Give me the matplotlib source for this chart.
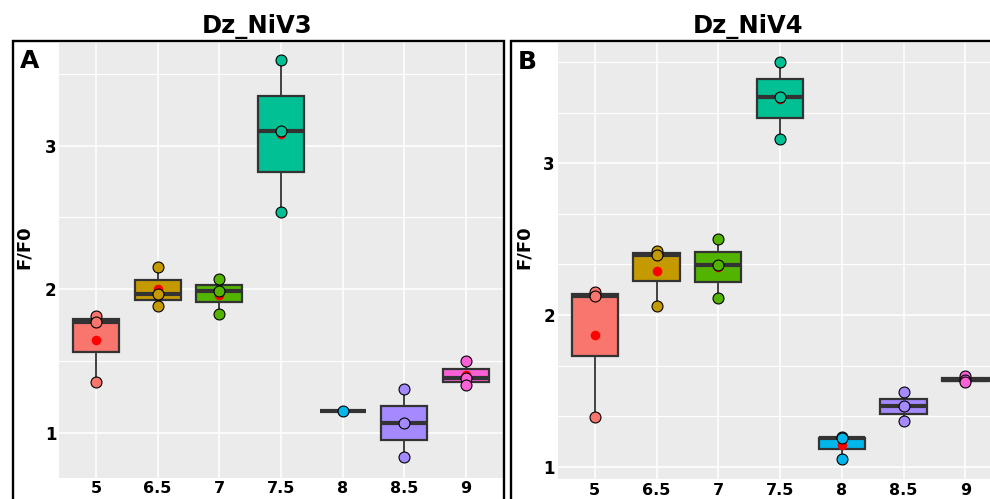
import numpy as np
import matplotlib
matplotlib.use("Agg")
import matplotlib.pyplot as plt
from matplotlib.patches import Rectangle

# ---------------- data ----------------
ph_labels = ['5', '6.5', '7', '7.5', '8', '8.5', '9']
colors = ['#F8766D', '#C49A00', '#53B400', '#00C094', '#00B6EB', '#A58AFF', '#FB61D7']

# Dz_NiV3 (panel A)
nv3_5 = [1.816, 1.773, 1.352]
nv3_65 = [2.158, 1.966, 1.886]
nv3_7 = [2.068, 1.989, 1.826]
nv3_75 = [3.600, 3.100, 2.537]
nv3_8 = [1.149]
nv3_85 = [1.303, 1.070, 0.830]
nv3_9 = [1.502, 1.380, 1.331]

# Dz_NiV4 (panel B)
nv4_5 = [2.154, 2.125, 1.330]
nv4_65 = [2.420, 2.395, 2.059]
nv4_7 = [2.501, 2.328, 2.112]
nv4_75 = [3.668, 3.439, 3.158]
nv4_8 = [1.196, 1.189, 1.049]
nv4_85 = [1.490, 1.398, 1.301]
nv4_9 = [1.598, 1.572, 1.558]

groups_a = [nv3_5, nv3_65, nv3_7, nv3_75, nv3_8, nv3_85, nv3_9]
groups_b = [nv4_5, nv4_65, nv4_7, nv4_75, nv4_8, nv4_85, nv4_9]

# ---------------- figure ----------------
W, H = 990, 499
fig = plt.figure(figsize=(W / 100, H / 100), dpi=100)


def px_rect(left, right, top, bottom):
    return [left / W, 1 - bottom / H, (right - left) / W, (bottom - top) / H]


def draw_panel(ax, groups, ylim, minor):
    ax.set_facecolor('#EBEBEB')
    pos = np.arange(len(groups))

    bp = ax.boxplot(groups, positions=pos, widths=0.75, patch_artist=True,
                    showfliers=False, showcaps=False, whis=1.5,
                    boxprops=dict(edgecolor='#333333', linewidth=1.6),
                    whiskerprops=dict(color='#333333', linewidth=1.3),
                    medianprops=dict(color='#333333', linewidth=3.0),
                    zorder=2)
    for patch, c in zip(bp['boxes'], colors):
        patch.set_facecolor(c)
    means = [np.mean(g) for g in groups]
    ax.scatter(pos, means, s=48, color='red', zorder=3, linewidths=0)
    for i, g in enumerate(groups):
        ax.scatter([i] * len(g), g, s=62, color=colors[i], edgecolor='black',
                   linewidths=0.8, zorder=4)

    for s in ax.spines.values():
        s.set_visible(False)
    ax.set_xlim(-0.6, len(groups) - 0.4)
    ax.set_ylim(*ylim)
    ax.set_xticks(pos)
    ax.set_xticklabels(ph_labels)
    ax.set_yticks([1, 2, 3])
    ax.set_yticklabels(['1', '2', '3'])
    ax.set_yticks(minor, minor=True)
    ax.grid(True, which='major', color='white', linewidth=1.1)
    ax.grid(True, which='minor', axis='y', color='white', linewidth=0.8)
    ax.set_axisbelow(True)
    ax.tick_params(axis='both', which='both', length=0)
    ax.tick_params(axis='y', pad=2, labelsize=12)
    ax.tick_params(axis='x', pad=2.5, labelsize=11.5)
    for lab in ax.get_xticklabels() + ax.get_yticklabels():
        lab.set_fontweight('bold')


ax_a = fig.add_axes(px_rect(59, 503, 43, 478))
draw_panel(ax_a, groups_a, (0.684, 3.716), [1.5, 2.5, 3.5])

ax_b = fig.add_axes(px_rect(557.7, 1002.5, 43, 479.3))
draw_panel(ax_b, groups_b, (0.918, 3.792),
           [4 / 3, 5 / 3, 7 / 3, 8 / 3, 10 / 3, 11 / 3])

# panel borders
for (l, r) in [(12.5, 504), (511, 1010)]:
    fig.patches.append(Rectangle((l / W, 1 - 530 / H), (r - l) / W, (530 - 41) / H,
                                 transform=fig.transFigure, fill=False,
                                 edgecolor='black', linewidth=1.7, clip_on=False))

# titles
fig.text(257.5 / W, 1 - 33 / H, 'Dz_NiV3', ha='center', va='baseline',
         fontsize=17.5, fontweight='bold')
fig.text(748 / W, 1 - 33 / H, 'Dz_NiV4', ha='center', va='baseline',
         fontsize=17.5, fontweight='bold')

# panel letters
fig.text(20 / W, 1 - 68.5 / H, 'A', ha='left', va='baseline', fontsize=18, fontweight='bold')
fig.text(518 / W, 1 - 69 / H, 'B', ha='left', va='baseline', fontsize=18, fontweight='bold')

# y labels
fig.text(23.5 / W, 1 - 247.5 / H, 'F/F0', rotation=90, ha='center', va='center',
         fontsize=13, fontweight='bold')
fig.text(523.5 / W, 1 - 247.5 / H, 'F/F0', rotation=90, ha='center', va='center',
         fontsize=13, fontweight='bold')

fig.savefig('out.png', dpi=100)
